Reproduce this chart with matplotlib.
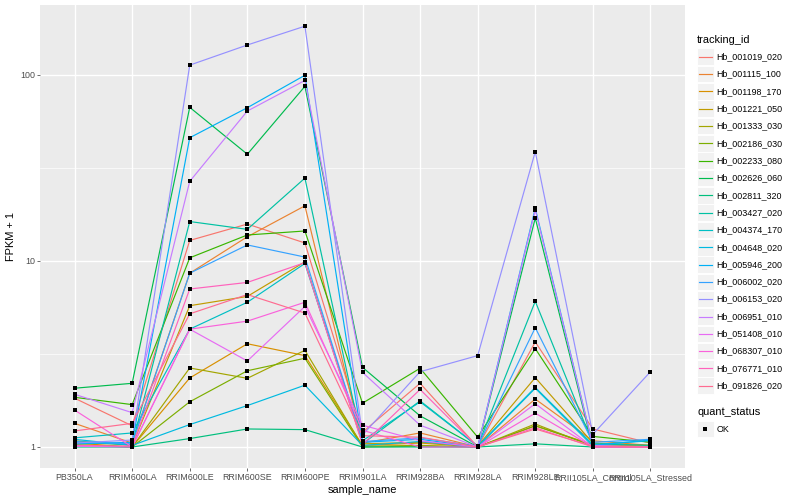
import matplotlib
matplotlib.use("Agg")
import matplotlib.pyplot as plt
from matplotlib.patches import Rectangle
from matplotlib.lines import Line2D

plt.rcParams['font.family'] = ['Liberation Sans', 'DejaVu Sans']

samples = ["PB350LA", "RRIM600LA", "RRIM600LE", "RRIM600SE", "RRIM600PE",
           "RRIM901LA", "RRIM928BA", "RRIM928LA", "RRIM928LE",
           "RRII105LA_Control", "RRII105LA_Stressed"]

tracking_ids = ["Hb_001019_020", "Hb_001115_100", "Hb_001198_170", "Hb_001221_050",
                "Hb_001333_030", "Hb_002186_030", "Hb_002233_080", "Hb_002626_060",
                "Hb_002811_320", "Hb_003427_020", "Hb_004374_170", "Hb_004648_020",
                "Hb_005946_200", "Hb_006002_020", "Hb_006153_020", "Hb_006951_010",
                "Hb_051408_010", "Hb_068307_010", "Hb_076771_010", "Hb_091826_020"]

# FPKM + 1 per sample (same order as samples)
hb_001019_020 = [1.83, 1.30, 12.9, 15.8, 12.5, 1.20, 2.20, 1.00, 3.67, 1.25, 1.05]
hb_001115_100 = [1.34, 1.05, 8.6, 13.5, 19.8, 1.05, 1.19, 1.00, 1.81, 1.08, 1.02]
hb_001198_170 = [1.05, 1.00, 2.35, 3.59, 3.10, 1.02, 1.05, 1.00, 1.30, 1.03, 1.01]
hb_001221_050 = [1.08, 1.02, 5.75, 6.45, 9.9, 1.04, 1.06, 1.01, 2.36, 1.05, 1.02]
hb_001333_030 = [1.02, 1.00, 2.66, 2.34, 3.31, 1.01, 1.02, 1.00, 1.33, 1.01, 1.00]
hb_002186_030 = [1.03, 1.00, 1.75, 2.57, 3.00, 1.00, 1.01, 1.00, 1.30, 1.02, 1.00]
hb_002233_080 = [1.85, 1.69, 10.4, 13.8, 14.5, 1.72, 2.65, 1.13, 3.38, 1.14, 1.06]
hb_002626_060 = [2.07, 2.20, 67.0, 37.5, 86.9, 2.68, 1.47, 1.00, 17.0, 1.00, 1.00]
hb_002811_320 = [1.00, 1.00, 1.11, 1.25, 1.24, 1.00, 1.00, 1.00, 1.04, 1.00, 1.00]
hb_003427_020 = [1.06, 1.03, 16.3, 14.8, 27.9, 1.04, 1.77, 1.01, 6.07, 1.04, 1.02]
hb_004374_170 = [1.12, 1.19, 4.3, 6.0, 9.7, 1.08, 1.75, 1.01, 2.09, 1.03, 1.08]
hb_004648_020 = [1.10, 1.02, 1.32, 1.67, 2.15, 1.02, 1.07, 1.00, 2.07, 1.01, 1.00]
hb_005946_200 = [1.04, 1.06, 46.0, 66.7, 99.7, 1.06, 1.10, 1.00, 19.2, 1.02, 1.09]
hb_006002_020 = [1.07, 1.04, 8.6, 12.2, 10.5, 1.07, 1.12, 1.01, 4.38, 1.06, 1.10]
hb_006153_020 = [1.05, 1.09, 113.0, 145.0, 183.0, 1.16, 2.54, 3.10, 38.7, 1.17, 2.54]
hb_006951_010 = [1.92, 1.53, 26.8, 64.0, 93.5, 2.52, 1.31, 1.00, 18.8, 1.02, 1.00]
hb_051408_010 = [1.01, 1.00, 4.3, 2.9, 5.7, 1.31, 1.08, 1.00, 1.71, 1.00, 1.00]
hb_068307_010 = [1.58, 1.00, 4.3, 4.75, 6.0, 1.23, 1.00, 1.00, 1.52, 1.00, 1.00]
hb_076771_010 = [1.02, 1.01, 7.07, 7.67, 9.8, 1.03, 2.04, 1.00, 1.27, 1.00, 1.00]
hb_091826_020 = [1.22, 1.34, 5.2, 6.6, 5.25, 1.15, 1.13, 1.00, 1.25, 1.01, 1.00]

series = [hb_001019_020, hb_001115_100, hb_001198_170, hb_001221_050, hb_001333_030,
          hb_002186_030, hb_002233_080, hb_002626_060, hb_002811_320, hb_003427_020,
          hb_004374_170, hb_004648_020, hb_005946_200, hb_006002_020, hb_006153_020,
          hb_006951_010, hb_051408_010, hb_068307_010, hb_076771_010, hb_091826_020]

colors = ["#F8766D", "#EA8331", "#D89000", "#C09B00", "#A3A500", "#7CAE00", "#39B600",
          "#00BB4E", "#00BF7D", "#00C1A3", "#00BFC4", "#00BAE0", "#00B0F6", "#35A2FF",
          "#9590FF", "#C77CFF", "#E76BF3", "#FA62DB", "#FF62BC", "#FF6C91"]

W, H = 800, 500
fig = plt.figure(figsize=(8, 5), dpi=100)
L, R, T, B = 40, 685, 5, 468
ax = fig.add_axes([L / W, 1 - B / H, (R - L) / W, (B - T) / H])
ax.set_facecolor("#EBEBEB")
ax.set_yscale("log")
ax.set_xlim(0.4, len(samples) + 0.6)
ax.set_ylim(10 ** (-21 / 186), 10 ** (442 / 186))

xs = list(range(1, len(samples) + 1))
for vals, c in zip(series, colors):
    ax.plot(xs, vals, color=c, lw=0.85, zorder=3)
for vals in series:
    ax.plot(xs, vals, ls="none", marker="s", ms=3.1, mew=0, color="black", zorder=4)

# grid
for m in [10 ** 0.5, 10 ** 1.5]:
    ax.axhline(m, color="white", lw=0.5, zorder=1)
for mj in [1, 10, 100]:
    ax.axhline(mj, color="white", lw=1.0, zorder=1)
for x in xs:
    ax.axvline(x, color="white", lw=1.0, zorder=1)
ax.grid(False)
for s in ax.spines.values():
    s.set_visible(False)

ax.set_yticks([1, 10, 100])
ax.set_yticklabels(["1", "10", "100"])
ax.yaxis.set_minor_locator(matplotlib.ticker.NullLocator())
ax.set_xticks(xs)
ax.set_xticklabels(samples)
ax.tick_params(axis="both", length=2.0, width=0.5, color="#333333",
               labelcolor="#4D4D4D", labelsize=6.4, pad=1.5)
ax.set_xlabel("sample_name", fontsize=7.9, labelpad=2)
ax.set_ylabel("FPKM + 1", fontsize=7.9, labelpad=3)

# legend drawn in pixel coordinates
lg = fig.add_axes([0, 0, 1, 1], facecolor="none")
lg.set_xlim(0, W)
lg.set_ylim(H, 0)
lg.axis("off")
lg.text(697, 40, "tracking_id", fontsize=7.9, va="center", ha="left")
y0, dy = 56.7, 17.32
for i, (tid, c) in enumerate(zip(tracking_ids, colors)):
    y = y0 + i * dy
    lg.add_patch(Rectangle((697, y - 8.3), 16.6, 16.6, facecolor="#F2F2F2",
                           edgecolor="white", lw=0.7))
    lg.add_line(Line2D([698.5, 711.5], [y, y], color=c, lw=0.85))
    lg.text(716.5, y, tid, fontsize=6.4, va="center", ha="left")
lg.text(697, 412, "quant_status", fontsize=7.9, va="center", ha="left")
lg.add_patch(Rectangle((697, 429 - 8.3), 16.6, 16.6, facecolor="#F2F2F2",
                       edgecolor="white", lw=0.7))
lg.plot([705], [429], marker="s", ms=3.1, mew=0, color="black", ls="none")
lg.text(716.5, 429, "OK", fontsize=6.4, va="center", ha="left")

fig.savefig("out.png", dpi=100)
